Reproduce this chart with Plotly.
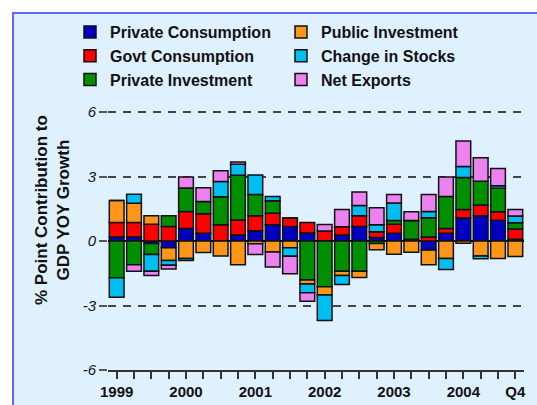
import plotly.graph_objects as go

quarters = list(range(24))
tick_labels = ["1999", "", "", "", "2000", "", "", "", "2001", "", "", "",
               "2002", "", "", "", "2003", "", "", "", "2004", "", "", "Q4"]

private_consumption = [0.19, 0.19, -0.11, -0.31, 0.59, 0.36, 0.0, 0.28, 0.48, 0.76, 0.68, 0.38,
                       0.0, 0.28, 0.68, 0.17, 0.36, 0.0, -0.42, 0.36, 1.07, 1.18, 0.97, 0.08]
govt_consumption = [0.68, 0.67, 0.78, 0.68, 0.79, 0.91, 0.76, 0.70, 0.70, 0.53, 0.39, 0.48,
                    0.47, 0.39, 0.50, 0.26, 0.42, 0.09, 0.19, 0.22, 0.40, 0.50, 0.40, 0.48]
private_investment = [-1.71, -1.10, -0.51, 0.50, 1.09, 0.57, 1.30, 2.08, 0.99, 0.59, 0.0, -1.81,
                      -2.12, -1.41, -1.41, -0.11, 0.18, 0.87, 0.90, 1.49, 1.49, 1.10, 1.09, 0.29]
public_investment = [1.02, 0.90, 0.40, -0.59, -0.81, -0.53, -0.70, -1.10, -0.12, -0.51, -0.31, -0.19,
                     -0.39, -0.19, -0.29, -0.29, -0.61, -0.52, -0.68, -0.81, -0.10, -0.70, -0.81, -0.72]
change_in_stocks = [-0.91, 0.42, -0.79, -0.23, -0.09, 0.0, 0.71, 0.51, 0.91, 0.19, -0.40, -0.40,
                    -1.19, -0.42, 0.48, 0.33, 0.81, 0.0, 0.29, -0.51, 0.51, -0.12, 0.11, 0.32]
net_exports = [0.0, -0.31, -0.19, -0.17, 0.51, 0.64, 0.50, 0.11, -0.50, -0.70, -0.81, -0.40,
               0.30, 0.80, 0.62, 0.79, 0.40, 0.40, 0.79, 0.91, 1.19, 1.10, 0.81, 0.30]

series = [
    ("Private Consumption", private_consumption, "#0000c0", "legend"),
    ("Govt Consumption", govt_consumption, "#ff0000", "legend"),
    ("Private Investment", private_investment, "#008f00", "legend"),
    ("Public Investment", public_investment, "#ff9619", "legend2"),
    ("Change in Stocks", change_in_stocks, "#00bff0", "legend2"),
    ("Net Exports", net_exports, "#ec82f0", "legend2"),
]

W, H = 537, 405
ML, MR, MT, MB = 108, 13, 110, 35
PW, PH = W - ML - MR, H - MT - MB
YMIN, YMAX = -6, 6.1

def px_x(px):
    return (px - ML) / PW

def px_y(py):
    return (H - MB - py) / PH

fig = go.Figure()
for name, vals, color, leg in series:
    fig.add_trace(go.Bar(
        x=quarters, y=vals, name=name, legend=leg,
        marker=dict(color=color, line=dict(color="#111111", width=1.5)),
    ))

font_family = "Liberation Sans, Arial, sans-serif"
leg_font = dict(size=16, weight="bold", family=font_family, color="#111111")

fig.update_layout(
    width=W, height=H,
    margin=dict(l=ML, r=MR, t=MT, b=MB, autoexpand=False),
    barmode="relative",
    bargap=0.15,
    paper_bgcolor="white",
    plot_bgcolor="rgba(0,0,0,0)",
    font=dict(family=font_family, color="#111111"),
    legend=dict(xref="container", yref="container",
                x=70 / W, y=1 - 15 / H, xanchor="left", yanchor="top",
                bgcolor="rgba(0,0,0,0)", orientation="v",
                font=leg_font, tracegroupgap=1),
    legend2=dict(xref="container", yref="container",
                 x=281 / W, y=1 - 15 / H, xanchor="left", yanchor="top",
                 bgcolor="rgba(0,0,0,0)", orientation="v",
                 font=leg_font, tracegroupgap=1),
    xaxis=dict(
        range=[-0.5, 23.5],
        tickmode="array", tickvals=quarters, ticktext=tick_labels,
        ticks="outside", ticklen=7, tickwidth=1.5, tickcolor="#333333",
        tickfont=dict(size=15, weight="bold", family=font_family, color="#111111"),
        showline=True, linecolor="#333333", linewidth=1.5,
        showgrid=False, zeroline=False, fixedrange=True, automargin=False,
    ),
    yaxis=dict(
        range=[YMIN, YMAX],
        tickmode="array", tickvals=[-6, -3, 0, 3, 6], ticktext=["-6", "-3", "0", "3", "6"],
        ticks="outside", ticklen=8, tickwidth=1.5, tickcolor="#555555",
        tickfont=dict(size=15, style="italic", family=font_family, color="#111111"),
        showgrid=True, gridcolor="#444444", gridwidth=1.5, griddash="8px,7px",
        zeroline=True, zerolinecolor="#000000", zerolinewidth=1.5,
        showline=False, fixedrange=True, automargin=False,
    ),
    shapes=[dict(
        type="rect", xref="paper", yref="paper", layer="below",
        x0=px_x(13), x1=px_x(545), y0=px_y(13), y1=px_y(415),
        fillcolor="#dff0ff", line=dict(color="#6666ff", width=2),
    )],
    annotations=[dict(
        text="% Point Contribution to<br>GDP YOY Growth",
        xref="paper", yref="paper", x=px_x(52), y=px_y(210),
        xanchor="center", yanchor="middle", textangle=-90, showarrow=False,
        font=dict(size=17, weight="bold", family=font_family, color="#111111"),
    )],
)

fig.write_html("out.html")
